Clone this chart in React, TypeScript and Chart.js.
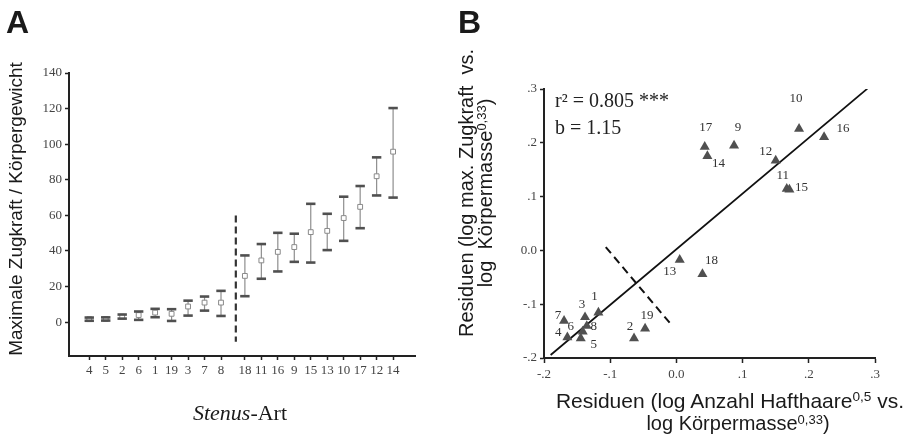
import React, { useEffect, useRef } from 'react';
import { Chart, registerables } from 'chart.js';

Chart.register(...registerables);

// ---------- Panel A data ----------
const speciesA = ['4', '5', '2', '6', '1', '19', '3', '7', '8', '18', '11', '16', '9', '15', '13', '10', '17', '12', '14'];
const meanA = [1.7, 1.8, 3.1, 4.0, 5.4, 4.7, 8.8, 11.0, 11.0, 26.0, 34.7, 39.5, 42.2, 50.6, 51.3, 58.5, 64.8, 82.0, 95.8];
const lowerA = [0.8, 0.9, 2.0, 1.3, 2.8, 0.7, 3.7, 6.5, 3.5, 14.6, 24.4, 28.5, 33.9, 33.5, 40.5, 45.7, 52.8, 71.2, 70.0];
const upperA = [2.6, 2.7, 4.3, 6.0, 7.5, 7.3, 12.1, 14.4, 17.6, 37.5, 43.9, 50.2, 49.7, 66.5, 60.9, 70.5, 76.5, 92.6, 120.3];
const yTicksA = [0, 20, 40, 60, 80, 100, 120, 140];
const separatorA = { x: 8.9, yTop: 60, yBottom: -11 };

// ---------- Panel B data ----------
const speciesB = ['1', '2', '3', '4', '5', '6', '7', '8', '9', '10', '11', '12', '13', '14', '15', '16', '17', '18', '19'];
const residX = [-0.1178, -0.064, -0.138, -0.1647, -0.1445, -0.1415, -0.1697, -0.1354, 0.0871, 0.1853, 0.1667, 0.150, 0.005, 0.0468, 0.1707, 0.2231, 0.0428, 0.0393, -0.0473];
const residY = [-0.1155, -0.1634, -0.1242, -0.1615, -0.1634, -0.151, -0.131, -0.1404, 0.195, 0.226, 0.1143, 0.167, -0.0174, 0.1752, 0.113, 0.2106, 0.1925, -0.0441, -0.1453];
const regLineX = [-0.19, 0.2885];
const regLineY = [-0.1944, 0.3006];
const divLineX = [-0.1067, -0.0096];
const divLineY = [0.0062, -0.1354];
const ticksB = [-0.2, -0.1, 0, 0.1, 0.2, 0.3];
const statsB = ['r\u00B2 = 0.805 ***', 'b = 1.15'];

// label placement (pixel offsets from each triangle)
const labelOffsetB: Record<string, [number, number]> = {
  '1': [-4, -16], '2': [-4, -12], '3': [-3, -13], '4': [-9, -5], '5': [13, 6], '6': [-12, -5],
  '7': [-6, -5], '8': [7, 1], '9': [4, -18], '10': [-3, -30], '11': [-4, -13], '12': [-10, -9],
  '13': [-10, 12], '14': [11, 7], '15': [12, -2], '16': [19, -9], '17': [1, -19], '18': [9, -14], '19': [2, -13],
};

const SERIF = '"Liberation Serif", "Times New Roman", serif';
const SANS = '"Liberation Sans", Arial, sans-serif';

const posA = speciesA.map((_, i) => i + (i >= 9 ? 0.45 : 0));

const fmtB = (v: number) => {
  if (Math.abs(v) < 1e-9) return '0.0';
  return (v < 0 ? '-' : '') + '.' + Math.round(Math.abs(v) * 10);
};

const errorBarPlugin = {
  id: 'errorBars',
  beforeDatasetsDraw(chart: any) {
    const { ctx, scales } = chart;
    const x = scales.x, y = scales.y;
    ctx.save();
    ctx.strokeStyle = '#8e8e8e';
    ctx.lineWidth = 1.2;
    meanA.forEach((_, i) => {
      const px = x.getPixelForValue(posA[i]);
      ctx.beginPath();
      ctx.moveTo(px, y.getPixelForValue(lowerA[i]));
      ctx.lineTo(px, y.getPixelForValue(upperA[i]));
      ctx.stroke();
    });
    ctx.restore();
  },
  afterDatasetsDraw(chart: any) {
    const { ctx, scales } = chart;
    const x = scales.x, y = scales.y;
    ctx.save();
    ctx.strokeStyle = '#505050';
    ctx.lineWidth = 2.6;
    meanA.forEach((_, i) => {
      const px = x.getPixelForValue(posA[i]);
      [lowerA[i], upperA[i]].forEach((v) => {
        const py = y.getPixelForValue(v);
        ctx.beginPath();
        ctx.moveTo(px - 4.7, py);
        ctx.lineTo(px + 4.7, py);
        ctx.stroke();
      });
    });
    ctx.restore();
  },
};

const labelPluginB = {
  id: 'labelsB',
  afterDatasetsDraw(chart: any) {
    const { ctx, scales, chartArea } = chart;
    const x = scales.x, y = scales.y;
    ctx.save();
    ctx.fillStyle = '#333';
    ctx.font = `13px ${SERIF}`;
    ctx.textAlign = 'center';
    ctx.textBaseline = 'middle';
    speciesB.forEach((s, i) => {
      const [dx, dy] = labelOffsetB[s] || [0, -12];
      ctx.fillText(s, x.getPixelForValue(residX[i]) + dx, y.getPixelForValue(residY[i]) + dy);
    });
    ctx.font = `20px ${SERIF}`;
    ctx.textAlign = 'left';
    ctx.textBaseline = 'alphabetic';
    ctx.fillStyle = '#222';
    ctx.fillText(statsB[0], chartArea.left + 11, chartArea.top + 17.5);
    ctx.fillText(statsB[1], chartArea.left + 11, chartArea.top + 45);
    ctx.restore();
  },
};

const tickFont = { family: SERIF, size: 13 };

function PanelA() {
  const ref = useRef<HTMLCanvasElement>(null);
  useEffect(() => {
    if (!ref.current) return;
    const chart = new Chart(ref.current, {
      type: 'scatter',
      data: {
        datasets: [
          {
            data: meanA.map((v, i) => ({ x: posA[i], y: v })),
            pointStyle: 'rect',
            pointRadius: 3.4,
            backgroundColor: '#ffffff',
            borderColor: '#8a8a8a',
            borderWidth: 1,
          } as any,
          {
            type: 'line',
            data: [
              { x: separatorA.x, y: separatorA.yTop },
              { x: separatorA.x, y: separatorA.yBottom },
            ],
            borderColor: '#333',
            borderWidth: 2.2,
            borderDash: [7, 4],
            pointRadius: 0,
            showLine: true,
          } as any,
        ],
      },
      options: {
        animation: false,
        responsive: false,
        events: [],
        layout: { padding: { left: 29, right: 45, top: 73, bottom: 57 } },
        plugins: { legend: { display: false }, tooltip: { enabled: false } },
        scales: {
          x: {
            type: 'linear',
            min: -1.23,
            max: 19.78,
            afterBuildTicks: (s: any) => { s.ticks = posA.map((v) => ({ value: v })); },
            afterFit: (s: any) => { s.height = 30; },
            ticks: {
              autoSkip: false,
              maxRotation: 0,
              minRotation: 0,
              padding: 3,
              color: '#444',
              font: tickFont,
              callback: (_v: any, i: number) => speciesA[i],
            },
            grid: { display: true, drawOnChartArea: false, drawTicks: true, tickLength: 4, tickColor: '#222', tickWidth: 1.5 },
            border: { display: true, color: '#222', width: 2 },
          },
          y: {
            type: 'linear',
            min: -19,
            max: 140,
            afterBuildTicks: (s: any) => { s.ticks = yTicksA.map((v) => ({ value: v })); },
            afterFit: (s: any) => { s.width = 40; },
            ticks: { padding: 3, color: '#444', font: tickFont },
            grid: { display: true, drawOnChartArea: false, drawTicks: true, tickLength: 4, tickColor: '#222', tickWidth: 1.5 },
            border: { display: true, color: '#222', width: 2 },
          },
        },
      } as any,
      plugins: [errorBarPlugin],
    });
    return () => chart.destroy();
  }, []);
  return <canvas ref={ref} width={460} height={443} style={{ position: 'absolute', left: 0, top: 0 }} />;
}

function PanelB() {
  const ref = useRef<HTMLCanvasElement>(null);
  useEffect(() => {
    if (!ref.current) return;
    const chart = new Chart(ref.current, {
      type: 'scatter',
      data: {
        datasets: [
          {
            data: residX.map((v, i) => ({ x: v, y: residY[i] })),
            pointStyle: 'triangle',
            pointRadius: 5.8,
            backgroundColor: '#505050',
            borderColor: '#505050',
            borderWidth: 0,
          } as any,
          {
            type: 'line',
            data: regLineX.map((v, i) => ({ x: v, y: regLineY[i] })),
            borderColor: '#111',
            borderWidth: 1.8,
            pointRadius: 0,
            showLine: true,
          } as any,
          {
            type: 'line',
            data: divLineX.map((v, i) => ({ x: v, y: divLineY[i] })),
            borderColor: '#111',
            borderWidth: 2,
            borderDash: [8, 5],
            pointRadius: 0,
            showLine: true,
          } as any,
        ],
      },
      options: {
        animation: false,
        responsive: false,
        events: [],
        layout: { padding: { left: 44, right: 39, top: 89, bottom: 55 } },
        plugins: { legend: { display: false }, tooltip: { enabled: false } },
        scales: {
          x: {
            type: 'linear',
            min: -0.2,
            max: 0.3,
            afterBuildTicks: (s: any) => { s.ticks = ticksB.map((v) => ({ value: v })); },
            afterFit: (s: any) => { s.height = 30; },
            ticks: { autoSkip: false, maxRotation: 0, padding: 4, color: '#444', font: tickFont, callback: (v: any) => fmtB(Number(v)) },
            grid: { display: true, drawOnChartArea: false, drawTicks: true, tickLength: 5, tickColor: '#222', tickWidth: 1.5 },
            border: { display: true, color: '#222', width: 2 },
          },
          y: {
            type: 'linear',
            min: -0.2,
            max: 0.3,
            afterBuildTicks: (s: any) => { s.ticks = ticksB.map((v) => ({ value: v })); },
            afterFit: (s: any) => { s.width = 40; },
            ticks: { padding: 3, color: '#444', font: tickFont, callback: (v: any) => fmtB(Number(v)) },
            grid: { display: true, drawOnChartArea: false, drawTicks: true, tickLength: 4, tickColor: '#222', tickWidth: 1.5 },
            border: { display: true, color: '#222', width: 2 },
          },
        },
      } as any,
      plugins: [labelPluginB],
    });
    return () => chart.destroy();
  }, []);
  return <canvas ref={ref} width={454} height={443} style={{ position: 'absolute', left: 460, top: 0 }} />;
}

const supStyle: React.CSSProperties = { fontSize: '0.65em', position: 'relative', top: '-0.5em', lineHeight: 0 };

export default function App() {
  return (
    <div style={{ position: 'absolute', left: 0, top: 0, width: 914, height: 443, background: '#fff', overflow: 'hidden' }}>
      <PanelA />
      <PanelB />
      <div style={{ position: 'absolute', left: 6, top: 6, font: `bold 32px ${SANS}`, lineHeight: '32px', color: '#1a1a1a' }}>A</div>
      <div style={{ position: 'absolute', left: 458, top: 6, font: `bold 32px ${SANS}`, lineHeight: '32px', color: '#1a1a1a' }}>B</div>
      <div
        style={{
          position: 'absolute', left: 15, top: 209, transform: 'translate(-50%, -50%) rotate(-90deg)',
          whiteSpace: 'nowrap', font: `19px ${SANS}`, lineHeight: '19px', color: '#1a1a1a',
        }}
      >
        Maximale Zugkraft / Körpergewicht
      </div>
      <div
        style={{
          position: 'absolute', left: 140, width: 200, top: 401.6, textAlign: 'center',
          font: `22px ${SERIF}`, lineHeight: '22px', color: '#1a1a1a',
        }}
      >
        <i>Stenus</i>-Art
      </div>
      <div
        style={{
          position: 'absolute', left: 476, top: 193, transform: 'translate(-50%, -50%) rotate(-90deg)',
          whiteSpace: 'nowrap', textAlign: 'center', font: `20px ${SANS}`, lineHeight: '19px', color: '#1a1a1a',
        }}
      >
        Residuen (log max. Zugkraft&nbsp; vs.
        <br />
        log&nbsp; Körpermasse<span style={supStyle}>0,33</span>)
      </div>
      <div
        style={{
          position: 'absolute', left: 530, width: 400, top: 390, textAlign: 'center',
          whiteSpace: 'nowrap', font: `21px ${SANS}`, lineHeight: '22px', color: '#1a1a1a',
        }}
      >
        Residuen (log Anzahl Hafthaare<span style={supStyle}>0,5</span> vs.
      </div>
      <div
        style={{
          position: 'absolute', left: 538, width: 400, top: 412, textAlign: 'center',
          whiteSpace: 'nowrap', font: `20px ${SANS}`, lineHeight: '22px', color: '#1a1a1a',
        }}
      >
        log Körpermasse<span style={supStyle}>0,33</span>)
      </div>
    </div>
  );
}
